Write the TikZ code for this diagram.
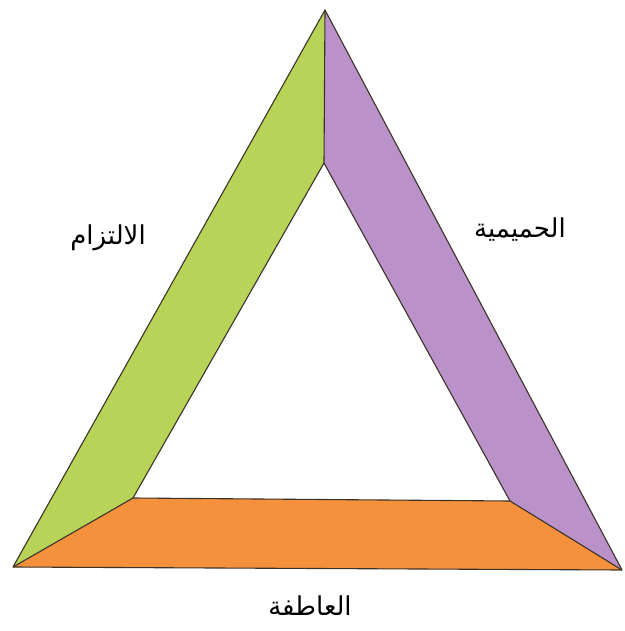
\documentclass[tikz,border=0pt]{standalone}
\usepackage{fontspec}
\newfontfamily\arabicfont[Script=Arabic]{DejaVu Sans}
\TeXXeTstate=1
\definecolor{facegreen}{RGB}{183,212,88}
\definecolor{facepurple}{RGB}{186,145,200}
\definecolor{faceorange}{RGB}{245,145,60}
\definecolor{edgecol}{RGB}{60,50,40}
\tikzset{
  face/.style={draw=edgecol, line width=1.1pt, line join=round},
  lbl/.style={font=\arabicfont\fontsize{26}{30}\selectfont, text=black, inner sep=0pt}
}
\begin{document}
\begin{tikzpicture}[x=1pt,y=-1pt]
\useasboundingbox (0,0) rectangle (624,631);
\coordinate (A) at (325,10);
\coordinate (BL) at (13,567);
\coordinate (BR) at (622,570);
\coordinate (iA) at (324,163);
\coordinate (iBL) at (133,498);
\coordinate (iBR) at (510,501);
\fill[facegreen] (A) -- (BL) -- (iBL) -- (iA) -- cycle;
\fill[facepurple] (A) -- (iA) -- (iBR) -- (BR) -- cycle;
\fill[faceorange] (BL) -- (BR) -- (iBR) -- (iBL) -- cycle;
\draw[face] (A) -- (BL) -- (BR) -- cycle;
\draw[face] (A) -- (iA) -- (iBL) -- (BL);
\draw[face] (iA) -- (iBR) -- (BR);
\draw[face] (iBL) -- (iBR);
\node[lbl] (commit) at (108,238) {\beginR الالتزام\endR};
\node[lbl] (intim) at (520,230) {\beginR الحميمية\endR};
\node[lbl] (passion) at (310,606) {\beginR العاطفة\endR};
\end{tikzpicture}
\end{document}
